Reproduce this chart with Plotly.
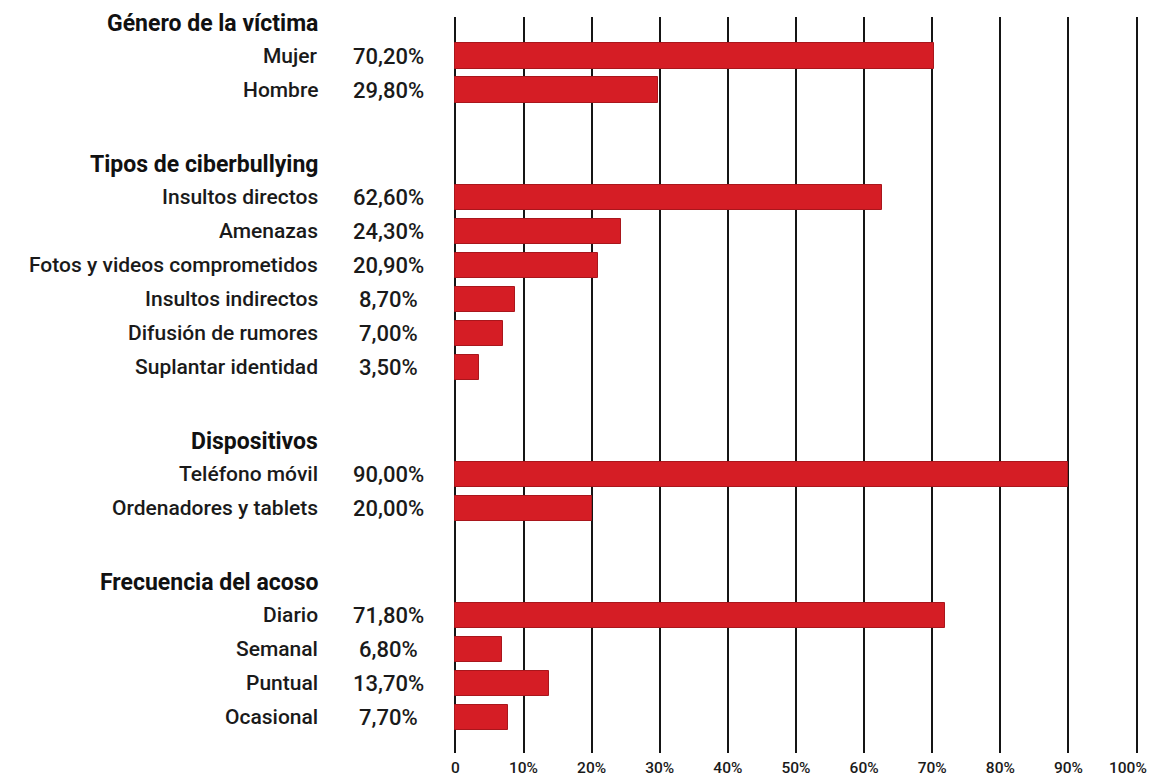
import plotly.graph_objects as go

# ---- data ----
sections = ["Género de la víctima", "Tipos de ciberbullying", "Dispositivos", "Frecuencia del acoso"]
genero_labels = ["Mujer", "Hombre"]
genero_values = [70.2, 29.8]
tipos_labels = ["Insultos directos", "Amenazas", "Fotos y videos comprometidos",
                "Insultos indirectos", "Difusión de rumores", "Suplantar identidad"]
tipos_values = [62.6, 24.3, 20.9, 8.7, 7.0, 3.5]
disp_labels = ["Teléfono móvil", "Ordenadores y tablets"]
disp_values = [90.0, 20.0]
frec_labels = ["Diario", "Semanal", "Puntual", "Ocasional"]
frec_values = [71.8, 6.8, 13.7, 7.7]
x_ticks = [0, 10, 20, 30, 40, 50, 60, 70, 80, 90, 100]
x_ticktext = ["0", "10%", "20%", "30%", "40%", "50%", "60%", "70%", "80%", "90%", "100%"]

groups = [(genero_labels, genero_values), (tipos_labels, tipos_values),
          (disp_labels, disp_values), (frec_labels, frec_values)]

# ---- layout constants (pixels, page coordinates; page body has 8px margin) ----
OFF = 8
W, H = 1158 - OFF, 784 - 2 * OFF
ML, MT = 451.6 - OFF, 17 - OFF
PLOT_RIGHT_PAGE, PLOT_BOTTOM_PAGE = 1140.4, 753
MR = (W + OFF) - PLOT_RIGHT_PAGE
MB = (H + OFF) - PLOT_BOTTOM_PAGE
PW = W - ML - MR
PH = H - MT - MB
SECTION_GAP = 3.15  # rows between last item of a section and first item of next
LABEL_RIGHT_PX = 319 - OFF
PCT_CENTER_PX = 388 - OFF
VISIBLE_RIGHT_PX = 1149 - OFF
TICK_LABEL_MID_BELOW = 15
RED = "#d51d25"
TEXT = "#1a1a1a"
FONT = "Roboto"
TICK_FONT = dict(family=FONT, size=15.5, color=TEXT, weight=500)


def px_to_paper(px):
    return (px - ML) / PW


# row positions built from order
ys, labels, values, header_pos = [], [], [], []
pos = 0.0
for gi, (labs, vals) in enumerate(groups):
    if gi > 0:
        pos += SECTION_GAP - 1
    header_pos.append(pos - 0.97)
    for lab, v in zip(labs, vals):
        ys.append(pos)
        labels.append(lab)
        values.append(v)
        pos += 1

fig = go.Figure()
fig.add_trace(go.Bar(
    x=values, y=ys, orientation="h", width=0.74,
    marker=dict(color=RED, line=dict(color="#a9161c", width=1)),
    hoverinfo="skip", showlegend=False,
))

annotations = []
for y, lab, v in zip(ys, labels, values):
    annotations.append(dict(
        x=px_to_paper(LABEL_RIGHT_PX), y=y, xref="paper", yref="y",
        text=lab, showarrow=False, xanchor="right", yanchor="middle",
        font=dict(family=FONT, size=21, color=TEXT, weight=500)))
    annotations.append(dict(
        x=px_to_paper(PCT_CENTER_PX), y=y, xref="paper", yref="y",
        text=f"{v:.2f}".replace(".", ",") + "%", showarrow=False,
        xanchor="center", yanchor="middle",
        font=dict(family=FONT, size=22, color=TEXT, weight=500)))
for y, s in zip(header_pos, sections):
    annotations.append(dict(
        x=px_to_paper(LABEL_RIGHT_PX), y=y, xref="paper", yref="y",
        text=s, showarrow=False, xanchor="right", yanchor="middle",
        font=dict(family=FONT, size=23, color="#111111", weight=700)))

# last tick label would be cut at the page edge: draw it right-aligned instead
annotations.append(dict(
    x=px_to_paper(VISIBLE_RIGHT_PX), y=-TICK_LABEL_MID_BELOW / PH,
    xref="paper", yref="paper", text=x_ticktext[-1], showarrow=False,
    xanchor="right", yanchor="middle", font=TICK_FONT))
axis_ticktext = x_ticktext[:-1] + [""]

row_px = 34.0
y_top = -(56 - 17) / row_px
y_bottom = y_top + PH / row_px

fig.update_layout(
    width=W, height=H,
    margin=dict(l=ML, r=MR, t=MT, b=MB, pad=0, autoexpand=False),
    plot_bgcolor="white", paper_bgcolor="white",
    annotations=annotations,
    bargap=0,
    xaxis=dict(range=[-0.5, 100.5], tickvals=x_ticks, ticktext=axis_ticktext,
               showgrid=True, gridcolor="#151515", gridwidth=2,
               zeroline=False, showline=False, ticks="", automargin=False,
               ticklabelstandoff=3, ticklabeloverflow="allow",
               tickfont=TICK_FONT, fixedrange=True),
    yaxis=dict(range=[y_bottom, y_top], showgrid=False, zeroline=False,
               showticklabels=False, showline=False, ticks="", automargin=False,
               fixedrange=True),
)

fig.write_html("out.html")
